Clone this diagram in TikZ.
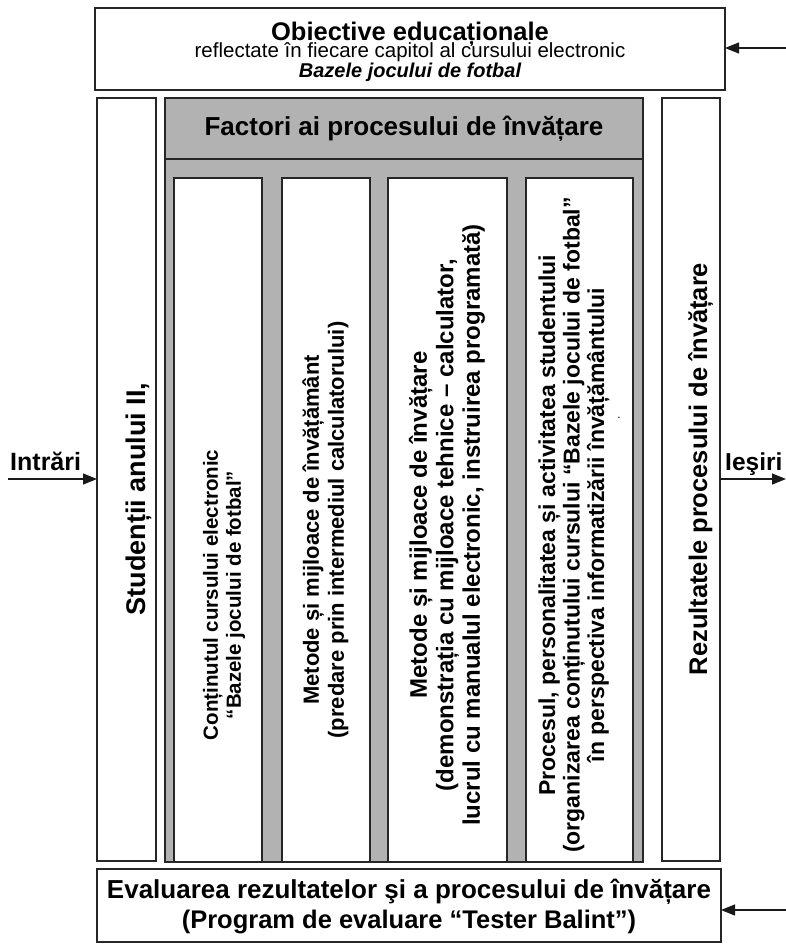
\documentclass[tikz,border=0pt]{standalone}
\usepackage{fontspec}
\setmainfont{Liberation Sans}
\usetikzlibrary{arrows.meta}
\begin{document}
\begin{tikzpicture}[x=1pt,y=-1pt,
  frame/.style={draw=black!85, line width=1.2pt},
  box/.style={frame, fill=white, inner sep=0pt, outer sep=0pt},
  panel/.style={frame, fill=gray!60, inner sep=0pt, outer sep=0pt},
  flow/.style={line width=1.2pt, draw=black!90, -{Triangle[length=14pt,width=11pt]}},
  coltext/.style={rotate=90, inner sep=0pt, align=center},
  sidefont/.style={rotate=90, anchor=base, inner sep=0pt},
  lbl/.style={anchor=base, inner sep=0pt}
]
\useasboundingbox (0,0) rectangle (786,945);

% outer frames
\node[box, minimum width=630pt, minimum height=82pt] (obj) at (410,49) {};
\node[box, minimum width=59pt, minimum height=763pt] (stud) at (126.5,479.5) {};
\node[panel, minimum width=478pt, minimum height=764pt] (fact) at (404,480) {};
\node[panel, minimum width=478pt, minimum height=61pt,
      font=\fontsize{26}{30}\selectfont\bfseries] (hdr) at (404,128.5)
      {Factori ai procesului de învățare};
\node[box, minimum width=58pt, minimum height=763pt] (rez) at (691,479.5) {};
\node[box, minimum width=624pt, minimum height=73pt] (eval) at (409,905.5) {};

% factor columns
\node[box, minimum width=88pt, minimum height=684pt] (c1) at (218,520) {};
\node[box, minimum width=88pt, minimum height=684pt] (c2) at (326,520) {};
\node[box, minimum width=119pt, minimum height=684pt] (c3) at (447.5,520) {};
\node[box, minimum width=107pt, minimum height=684pt] (c4) at (579.5,520) {};

% objectives text
\node[lbl, font=\fontsize{25.5}{28}\selectfont\bfseries] (objA) at (410,40) {Obiective educaționale};
\node[lbl, font=\fontsize{20.5}{24}\selectfont] (objB) at (410,57) {reflectate în fiecare capitol al cursului electronic};
\node[lbl, font=\fontsize{20}{24}\selectfont\bfseries\itshape] (objC) at (410,77) {Bazele jocului de fotbal};

% side columns
\node[sidefont, font=\fontsize{27}{30}\selectfont\bfseries] (studT) at (145,499) {Studenții anului II,};
\node[sidefont, font=\fontsize{25.5}{30}\selectfont\bfseries] (rezT) at (707,469) {Rezultatele procesului de învățare};

% column texts
\node[coltext, font=\bfseries\fontsize{20.5}{23}\selectfont]
  (c1T) at (224,595) {Conținutul cursului electronic\\“Bazele jocului de fotbal”};
\node[coltext, font=\bfseries\fontsize{22}{25}\selectfont]
  (c2T) at (325.5,530) {Metode și mijloace de învățământ\\(predare prin intermediul calculatorului)};
\node[coltext, font=\bfseries\fontsize{24}{26.5}\selectfont]
  (c3T) at (447,525) {Metode și mijloace de învățare\\(demonstrația cu mijloace tehnice – calculator,\\lucrul cu manualul electronic, instruirea programată)};
\node[coltext, font=\bfseries\fontsize{23}{24.5}\selectfont]
  (c4T) at (574,525) {Procesul, personalitatea și activitatea studentului\\(organizarea conținutului cursului “Bazele jocului de fotbal”\\în perspectiva informatizării învățământului};
\node[coltext, font=\fontsize{12}{14}\selectfont] (c4dot) at (619,418) {.};

% evaluation text
\node[lbl, font=\bfseries\fontsize{26}{30}\selectfont] (evA) at (409,898) {Evaluarea rezultatelor şi a procesului de învățare};
\node[lbl, font=\bfseries\fontsize{25.5}{30}\selectfont] (evB) at (409,928) {(Program de evaluare “Tester Balint”)};

% inputs and outputs
\node[lbl, anchor=base west, font=\bfseries\fontsize{25}{30}\selectfont] (inT) at (10,470) {Intrări};
\node[lbl, anchor=base west, font=\bfseries\fontsize{24.5}{30}\selectfont] (outT) at (725,470) {Ieşiri};
\coordinate (inSrc) at (8,479);
\coordinate (outDst) at (786,479);
\coordinate (objSrc) at (786,48);
\coordinate (evalSrc) at (786,910);
\draw[flow] (inSrc) -- (inSrc -| stud.west);
\draw[flow] (outDst -| rez.east) -- (outDst);
\draw[flow] (objSrc) -- (objSrc -| obj.east);
\draw[flow] (evalSrc) -- (evalSrc -| eval.east);
\end{tikzpicture}
\end{document}
